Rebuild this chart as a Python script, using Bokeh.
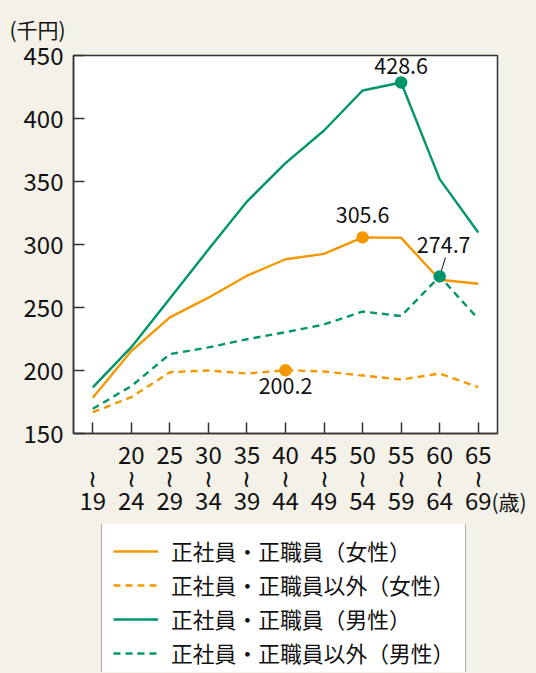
from bokeh.plotting import figure
from bokeh.models import (ColumnDataSource, FixedTicker, Range1d, Legend, LegendItem,
                          LinearAxis)
from bokeh.layouts import column
from bokeh.core.properties import value
from bokeh.embed import file_html
from bokeh.resources import INLINE

# ---- data ----
age_from = ["", "20", "25", "30", "35", "40", "45", "50", "55", "60", "65"]
age_to = ["19", "24", "29", "34", "39", "44", "49", "54", "59", "64", "69"]
female_regular = [178.3, 215.4, 242.2, 257.8, 275.2, 288.3, 292.6, 305.6, 305.3, 272.0, 268.8]
female_nonregular = [166.9, 178.8, 198.6, 200.0, 197.6, 200.2, 199.2, 196.0, 192.8, 197.6, 186.8]
male_regular = [186.6, 218.5, 257.2, 296.0, 334.1, 364.6, 390.5, 422.2, 428.6, 351.9, 309.5]
male_nonregular = [169.6, 187.6, 213.0, 218.3, 224.8, 230.4, 236.5, 246.8, 243.2, 274.7, 241.0]
series_names = ["正社員・正職員（女性）", "正社員・正職員以外（女性）",
                "正社員・正職員（男性）", "正社員・正職員以外（男性）"]
y_ticks = [150, 200, 250, 300, 350, 400, 450]
y_unit = "(千円)"
x_unit = "(歳)"

ORANGE = "#f39800"
GREEN = "#00956a"
BG = "#f4f1e9"
FONT = "Noto Sans CJK JP"
INK = "#111111"

xs = list(range(len(age_to)))

p = figure(output_backend="svg", toolbar_location=None,
           x_range=Range1d(-0.5, len(age_to) - 0.5), y_range=Range1d(y_ticks[0], y_ticks[-1]),
           frame_width=424, frame_height=378,
           min_border_left=73, min_border_right=39, min_border_top=54, min_border_bottom=91)
p.background_fill_color = "white"
p.border_fill_color = BG
p.outline_line_color = "#333333"
p.outline_line_width = 1.5
p.grid.visible = False

p.title.text = y_unit
p.title.text_font = FONT
p.title.text_font_size = "21px"
p.title.text_font_style = "normal"
p.title.text_color = INK
p.title.align = "left"
p.title.offset = -64
p.title.standoff = 23

# axes
p.xaxis.ticker = FixedTicker(ticks=xs)
p.xaxis.major_label_overrides = {i: f"{age_from[i] if age_from[i] else ' '}\n≀\n{age_to[i]}" for i in xs}
p.yaxis.ticker = FixedTicker(ticks=y_ticks)
for ax in (p.xaxis, p.yaxis):
    ax.major_tick_in = 11
    ax.major_tick_out = 0
    ax.minor_tick_line_color = None
    ax.axis_line_color = "#333333"
    ax.axis_line_width = 1.5
    ax.major_tick_line_color = "#333333"
    ax.major_tick_line_width = 1.5
    ax.major_label_text_font = FONT
    ax.major_label_text_color = INK
    ax.major_label_text_font_size = "24px"
p.xaxis.major_label_standoff = 2
p.xaxis.major_label_text_line_height = 0.66
p.yaxis.major_label_standoff = 10

# unit of the age axis, shown after the last age label
age_unit_axis = LinearAxis(ticker=FixedTicker(ticks=[y_ticks[0]]),
                           major_label_overrides={y_ticks[0]: "\n" * 5 + x_unit},
                           major_tick_in=0, major_tick_out=0, minor_tick_line_color=None,
                           axis_line_color=None, major_label_standoff=-6,
                           major_label_text_font=FONT, major_label_text_font_size="21px",
                           major_label_text_color=INK, major_label_text_line_height=0.9)
p.add_layout(age_unit_axis, "right")

src = ColumnDataSource(dict(x=xs, fr=female_regular, fn=female_nonregular,
                            mr=male_regular, mn=male_nonregular))
lw = 2.4
styles = [("fr", ORANGE, "solid"), ("fn", ORANGE, "7 5"),
          ("mr", GREEN, "solid"), ("mn", GREEN, "7 5")]
for col, c, dash in styles:
    p.line("x", col, source=src, color=c, line_width=lw, line_dash=dash)

# highlighted points
i_fr = female_regular.index(max(female_regular))
i_mr = male_regular.index(max(male_regular))
i_fn = 5
i_mn = 9
pts = ColumnDataSource(dict(
    x=[xs[i_fr], xs[i_fn], xs[i_mr], xs[i_mn]],
    y=[female_regular[i_fr], female_nonregular[i_fn], male_regular[i_mr], male_nonregular[i_mn]],
    c=[ORANGE, ORANGE, GREEN, GREEN],
    t=[f"{female_regular[i_fr]:.1f}", f"{female_nonregular[i_fn]:.1f}",
       f"{male_regular[i_mr]:.1f}", f"{male_nonregular[i_mn]:.1f}"],
    dx=[0, 0, 0, 4],
    dy=[-22, 16, -16, -31],
))
# leader line for 274.7
p.segment(x0=[xs[i_mn]], y0=[male_nonregular[i_mn]], x1=[xs[i_mn] + 0.15],
          y1=[male_nonregular[i_mn] + 15], line_color=INK, line_width=1)
p.scatter("x", "y", source=pts, size=12.5, color="c", line_color=None)
p.text("x", "y", text="t", source=pts, x_offset="dx", y_offset="dy",
       text_align="center", text_baseline="middle", text_font=value(FONT),
       text_font_size="21.5px", text_color=INK)

# ---- legend strip below the chart (the series lines themselves fall outside its view) ----
q = figure(output_backend="svg", toolbar_location=None,
           x_range=Range1d(-100, -99), y_range=Range1d(y_ticks[0], y_ticks[-1]),
           frame_width=536, frame_height=148,
           min_border_left=0, min_border_right=0, min_border_top=0, min_border_bottom=0)
q.axis.visible = False
q.grid.visible = False
q.outline_line_color = None
q.background_fill_color = BG
q.border_fill_color = BG
items = []
for (col, c, dash), name in zip(styles, series_names):
    r = q.line("x", col, source=src, color=c, line_width=lw, line_dash=dash)
    items.append(LegendItem(label=name, renderers=[r]))

legend = Legend(items=items, location=(101, -8), orientation="vertical")
legend.label_text_font = FONT
legend.label_text_font_size = "21.8px"
legend.label_text_color = INK
legend.glyph_width = 45
legend.glyph_height = 26
legend.label_height = 26
legend.label_standoff = 13
legend.spacing = 3
legend.padding = 11
legend.margin = 0
legend.border_line_color = "#555555"
legend.border_line_width = 1.2
legend.background_fill_color = "white"
legend.background_fill_alpha = 1
q.add_layout(legend, "center")

layout = column(p, q, spacing=0)

html = file_html(layout, INLINE)
html = html.replace("</head>",
                    f"<style>html, body {{ background: {BG} !important; overflow: hidden !important; }}</style></head>", 1)
open("out.html", "w").write(html)
